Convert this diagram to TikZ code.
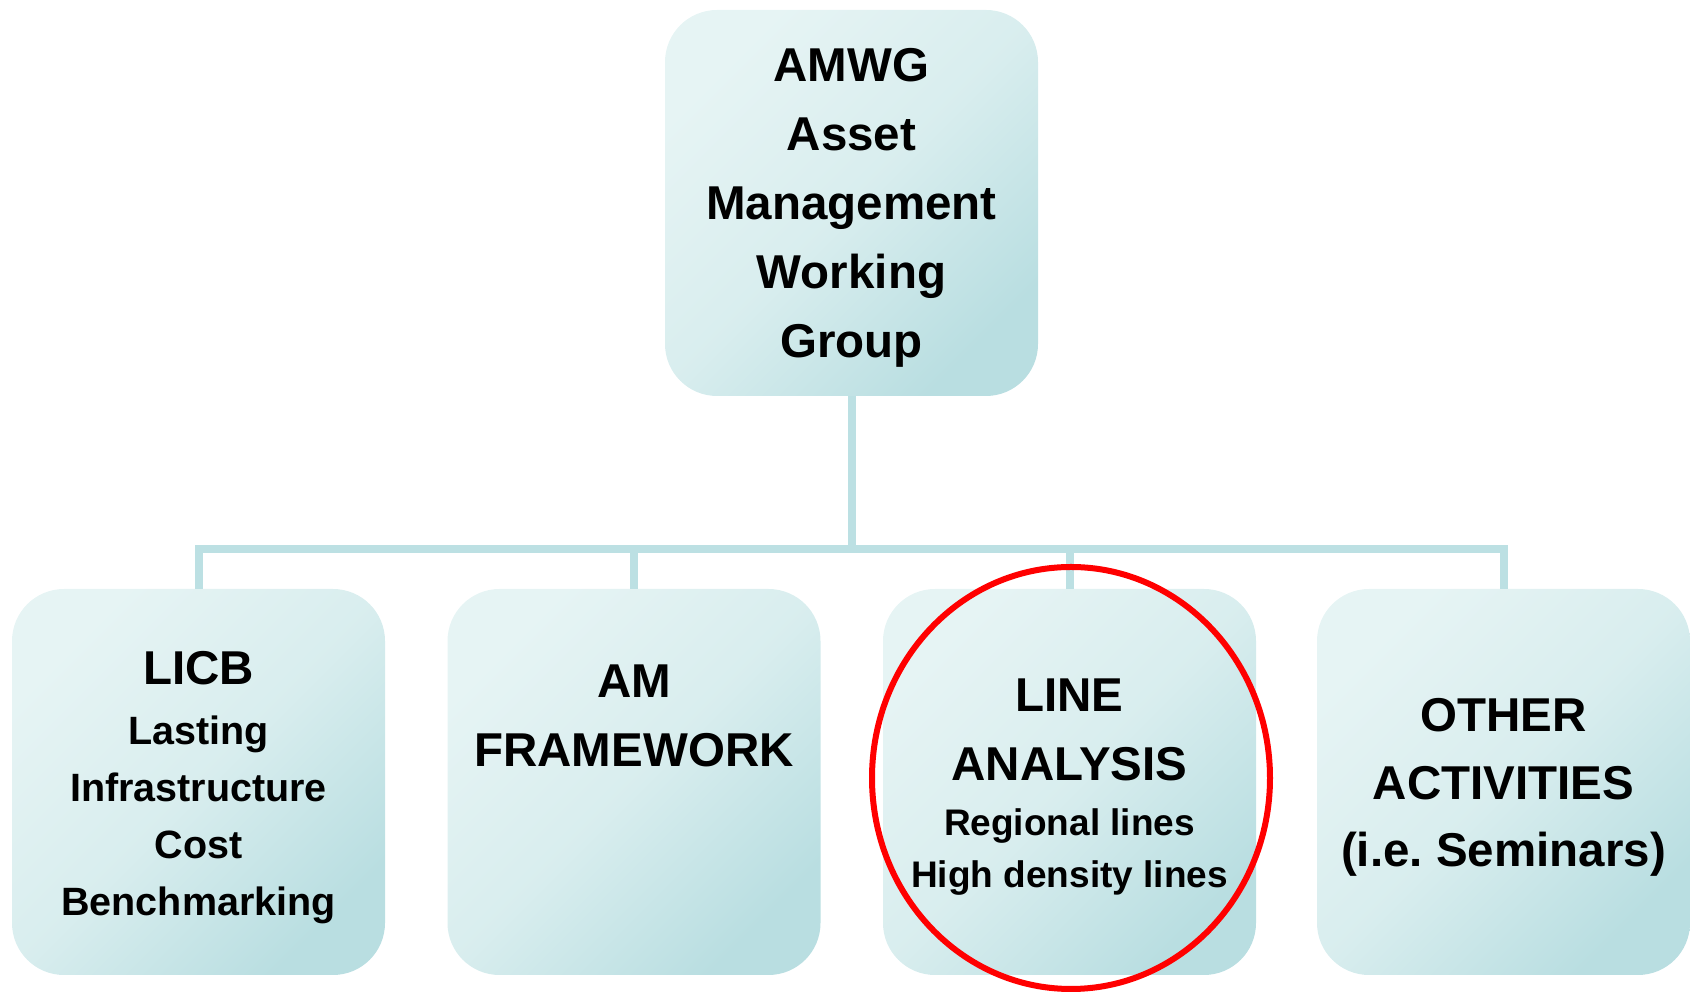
\documentclass[tikz,border=0pt]{standalone}
\usepackage{fontspec}
\setmainfont{Liberation Sans}
\usetikzlibrary{shapes.geometric}
\frenchspacing
\definecolor{boxlight}{HTML}{E6F4F4}
\definecolor{boxdark}{HTML}{B9DEE1}
\definecolor{linkcol}{HTML}{BCE0E3}
\definecolor{ringred}{HTML}{FF0000}
\tikzset{
  box/.style={rectangle, rounded corners=52pt, minimum width=373pt, minimum height=386pt,
    inner sep=0pt, top color=boxlight, bottom color=boxdark, middle color=boxlight!70!boxdark, shading angle=45},
  big/.style={anchor=base, inner sep=0pt, font=\fontsize{47.5}{57}\selectfont\bfseries},
  smallA/.style={anchor=base, inner sep=0pt, font=\fontsize{39.5}{47}\selectfont\bfseries},
  smallB/.style={anchor=base, inner sep=0pt, font=\fontsize{37}{44}\selectfont\bfseries},
  link/.style={draw=linkcol, line width=8pt},
  ring/.style={draw=ringred, line width=6pt, ellipse, minimum width=398pt, minimum height=422pt, inner sep=0pt}
}
\begin{document}
\begin{tikzpicture}[x=1pt,y=1pt]
\useasboundingbox (0,0) rectangle (1690,992);
% boxes
\node[box] (top) at (851.5,789) {};
\node[box] (licb) at (198.5,210) {};
\node[box] (am) at (634,210) {};
\node[box] (line) at (1069.5,210) {};
\node[box] (other) at (1503.5,210) {};
% connectors
\coordinate (bus) at (851.5,443);
\draw[link] (top.south) -- (bus);
\draw[link] (licb.north) |- (bus);
\draw[link] (am.north) |- (bus);
\draw[link] (line.north) |- (bus);
\draw[link] (other.north) |- (bus);
% top text
\node[big] (t1) at (851.5,910) {AMWG};
\node[big] (t2) at (851.5,841) {Asset};
\node[big] (t3) at (851.5,772) {Management};
\node[big] (t4) at (851.5,703) {Working};
\node[big] (t5) at (851.5,634) {Group};
% LICB
\node[big] (l1) at (198.5,307) {LICB};
\node[smallA] (l2) at (198.5,247) {Lasting};
\node[smallA] (l3) at (198.5,190) {Infrastructure};
\node[smallA] (l4) at (198.5,133) {Cost};
\node[smallA] (l5) at (198.5,76) {Benchmarking};
% AM
\node[big] (a1) at (634,294) {AM};
\node[big] (a2) at (634,225) {FRAMEWORK};
% LINE
\node[big] (n1) at (1069.5,280) {LINE};
\node[big] (n2) at (1069.5,211) {ANALYSIS};
\node[smallB] (n3) at (1069.5,156) {Regional lines};
\node[smallB] (n4) at (1069.5,104) {High density lines};
% OTHER
\node[big] (o1) at (1503.5,260) {OTHER};
\node[big] (o2) at (1503.5,192) {ACTIVITIES};
\node[big] (o3) at (1503.5,125) {(i.e. Seminars)};
% highlight ring
\node[ring] (hl) at (1071,214) {};
\end{tikzpicture}
\end{document}
